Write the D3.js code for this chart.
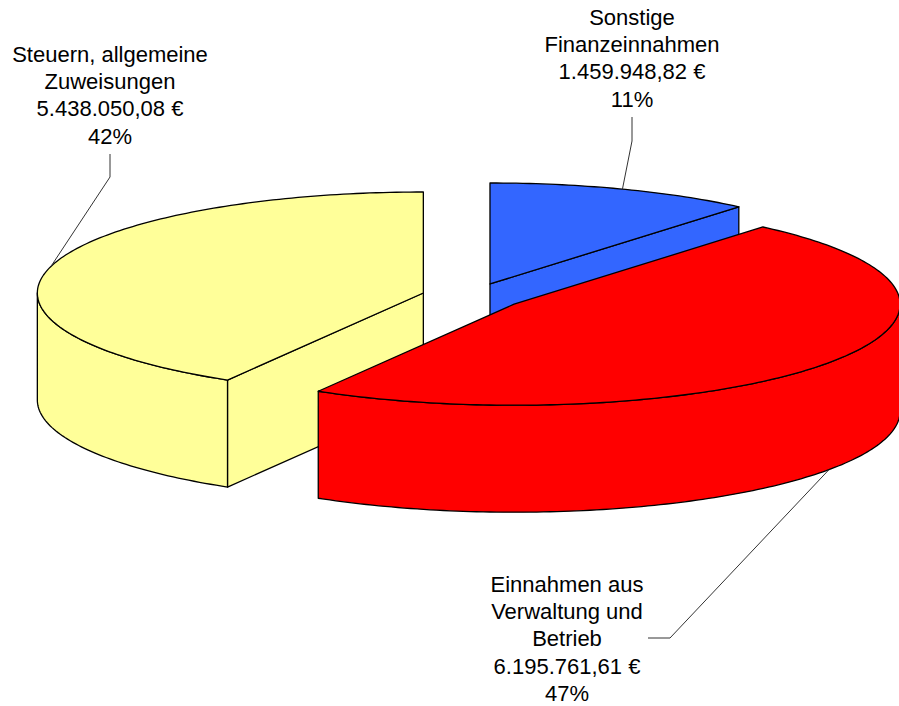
<!DOCTYPE html>
<html>
<head>
<meta charset="utf-8">
<script src="https://cdn.jsdelivr.net/npm/d3@7"></script>
<style>
  html, body { margin: 0; padding: 0; background: #fff; }
  svg { display: block; }
  text { font-family: "Liberation Sans", Arial, sans-serif; font-size: 22px; fill: #000; }
</style>
</head>
<body>
<div class="chart"></div>
<script>
const categories = ['Sonstige Finanzeinnahmen', 'Einnahmen aus Verwaltung und Betrieb', 'Steuern, allgemeine Zuweisungen'];
const values = [1459948.82, 6195761.61, 5438050.08];
const colors = ['#3366ff', '#ff0000', '#ffff99'];
const nameLines = [['Sonstige', 'Finanzeinnahmen'], ['Einnahmen aus', 'Verwaltung und', 'Betrieb'], ['Steuern, allgemeine', 'Zuweisungen']];

const width = 899;
const height = 706;

// pie geometry
const center = { x: 472.5, y: 296.5 };
const rx = 386;
const ry = 101;
const depth = 107;
const explode = 0.132;
const lineHeight = 27.2;

// yellow at the back, red over everything
const drawOrder = [2, 0, 1];

// label position: centre x, first baseline, leader elbow, leader start
const labelLayout = [
  { x: 632, y: 25, start: [632, 117], elbow: [632, 141], onBottom: false },
  { x: 567, y: 592, start: [648, 638], elbow: [670, 638], onBottom: true },
  { x: 110, y: 62, start: [110, 154], elbow: [110, 177], onBottom: false },
];

const de = d3.formatLocale({ decimal: ',', thousands: '.', grouping: [3], currency: ['', ' €'] });
const euro = de.format('$,.2f');
const total = d3.sum(values);
const percent = d3.format('.0%');

const svg = d3.select('.chart')
  .append('svg')
  .attr('width', width)
  .attr('height', height);

const slices = d3.pie().sort(null)(values);

// angle is clockwise from the top, like d3.pie
const rimPoint = (c, a, dy = 0) => [c.x + rx * Math.sin(a), c.y - ry * Math.cos(a) + dy];
const midAngle = d => (d.startAngle + d.endAngle) / 2;
const sliceCenter = d => {
  const m = midAngle(d);
  return { x: center.x + explode * rx * Math.sin(m), y: center.y - explode * ry * Math.cos(m) };
};

const line = d3.line();
const rim = (c, a0, a1, dy = 0) => {
  const n = Math.max(2, Math.ceil((a1 - a0) * 180 / Math.PI));
  return d3.range(n + 1).map(i => rimPoint(c, a0 + (a1 - a0) * i / n, dy));
};

function drawSlice(d) {
  const c = sliceCenter(d);
  const g = svg.append('g')
    .attr('fill', colors[d.index])
    .attr('stroke', '#000')
    .attr('stroke-width', 1.3)
    .attr('stroke-linejoin', 'round');

  const cut = a => {
    const p = rimPoint(c, a);
    const pts = [[c.x, c.y], p, [p[0], p[1] + depth], [c.x, c.y + depth]];
    g.append('path').attr('d', line(pts) + 'Z');
  };

  // cut faces, only the ones turned to the viewer
  if (-Math.sin(d.startAngle) > 1e-6) cut(d.startAngle);
  if (Math.sin(d.endAngle) > 1e-6) cut(d.endAngle);

  // outer wall, front half of the rim only
  const a0 = Math.max(d.startAngle, Math.PI / 2);
  const a1 = Math.min(d.endAngle, Math.PI * 1.5);
  if (a1 > a0) {
    const wall = rim(c, a0, a1).concat(rim(c, a0, a1, depth).reverse());
    g.append('path').attr('d', line(wall) + 'Z');
  }

  // top face
  const top = [[c.x, c.y]].concat(rim(c, d.startAngle, d.endAngle));
  g.append('path').attr('d', line(top) + 'Z');
}

drawOrder.forEach(i => drawSlice(slices[i]));

// leader lines
svg.append('g')
  .selectAll('path')
  .data(slices)
  .join('path')
  .attr('fill', 'none')
  .attr('stroke', '#333')
  .attr('stroke-width', 1)
  .attr('d', d => {
    const l = labelLayout[d.index];
    const end = rimPoint(sliceCenter(d), midAngle(d), l.onBottom ? depth : 0);
    return line([l.start, l.elbow, end]);
  });

// labels
svg.append('g')
  .selectAll('text')
  .data(slices)
  .join('text')
  .attr('text-anchor', 'middle')
  .attr('aria-label', d => categories[d.index])
  .each(function (d) {
    const l = labelLayout[d.index];
    const rows = nameLines[d.index].concat([euro(d.value), percent(d.value / total)]);
    d3.select(this).selectAll('tspan')
      .data(rows)
      .join('tspan')
      .attr('x', l.x)
      .attr('y', (r, i) => l.y + i * lineHeight)
      .text(r => r);
  });
</script>
</body>
</html>
